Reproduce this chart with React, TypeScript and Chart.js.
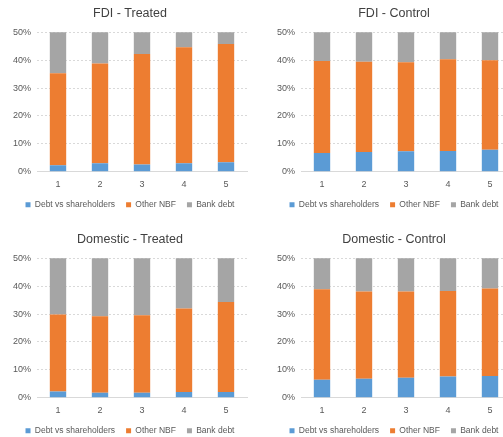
import React, { useEffect, useRef } from "react";
import { Chart, registerables } from "chart.js";

Chart.register(...registerables);

// Time periods on the x axis
const periods = ["1", "2", "3", "4", "5"];
const yTicks = [0, 10, 20, 30, 40, 50];

// Shares of total liabilities (%) per group
const fdiTreatedShareholders = [2.3, 3.0, 2.6, 3.0, 3.4];
const fdiTreatedOtherNbf = [33.0, 35.8, 39.6, 41.6, 42.4];
const fdiTreatedBank = [64.7, 61.2, 57.8, 55.4, 54.2];

const fdiControlShareholders = [6.7, 7.1, 7.3, 7.4, 7.9];
const fdiControlOtherNbf = [33.0, 32.3, 32.0, 32.9, 32.1];
const fdiControlBank = [60.3, 60.6, 60.7, 59.7, 60.0];

const domTreatedShareholders = [2.2, 1.8, 1.8, 2.0, 2.0];
const domTreatedOtherNbf = [27.6, 27.4, 27.8, 30.0, 32.3];
const domTreatedBank = [70.2, 70.8, 70.4, 68.0, 65.7];

const domControlShareholders = [6.4, 6.8, 7.2, 7.6, 7.8];
const domControlOtherNbf = [32.5, 31.3, 30.9, 30.7, 31.4];
const domControlBank = [61.1, 61.9, 61.9, 61.7, 60.8];

const seriesNames = ["Debt vs shareholders", "Other NBF", "Bank debt"];
const seriesColors = ["#5B9BD5", "#ED7D31", "#A5A5A5"];

const FONT = "'Liberation Sans', Arial, sans-serif";
const W = 262;
const H = 219;

type PanelProps = {
  title: string;
  series: number[][];
  left: number;
  top: number;
};

function Panel({ title, series, left, top }: PanelProps) {
  const ref = useRef<HTMLCanvasElement | null>(null);

  useEffect(() => {
    if (!ref.current) return;
    const chart = new Chart(ref.current, {
      type: "bar",
      data: {
        labels: periods,
        datasets: series.map((values, i) => ({
          label: seriesNames[i],
          data: values,
          backgroundColor: seriesColors[i],
          borderWidth: 0,
          barPercentage: 0.39,
          categoryPercentage: 1,
          clip: 0,
        })),
      },
      options: {
        responsive: false,
        animation: false,
        devicePixelRatio: 1,
        layout: { padding: { left: 13, right: W - 247, top: 4.5, bottom: 0 } },
        plugins: {
          title: {
            display: true,
            text: title,
            color: "#404040",
            font: { family: FONT, size: 12.5, weight: "normal", lineHeight: 1.2 },
            padding: { top: 2, bottom: 10.8 },
          },
          legend: {
            position: "bottom",
            labels: {
              boxWidth: 5,
              boxHeight: 5,
              padding: 11,
              color: "#595959",
              font: { family: FONT, size: 8.5 },
            },
          },
          tooltip: { enabled: false },
        },
        scales: {
          x: {
            stacked: true,
            afterFit: (scale: any) => {
              scale.height = 17.8;
            },
            grid: { display: false, drawTicks: false },
            border: { display: true, color: "#D9D9D9", width: 1 },
            ticks: {
              color: "#595959",
              padding: 7,
              font: { family: FONT, size: 9 },
            },
          },
          y: {
            stacked: true,
            min: 0,
            max: 50,
            afterFit: (scale: any) => {
              scale.width = 24;
            },
            afterBuildTicks: (scale: any) => {
              scale.ticks = yTicks.map((v) => ({ value: v }));
            },
            grid: { color: "#D9D9D9", drawTicks: false, lineWidth: 1 },
            border: { display: false, dash: [2, 2] },
            ticks: {
              color: "#595959",
              padding: 6,
              font: { family: FONT, size: 9 },
              callback: (v: any) => `${v}%`,
            },
          },
        },
      },
    } as any);
    return () => chart.destroy();
  }, [title, series]);

  return (
    <div style={{ position: "absolute", left, top, width: W, height: H }}>
      <canvas ref={ref} width={W} height={H} style={{ display: "block" }} />
    </div>
  );
}

export default function App() {
  return (
    <div
      style={{
        position: "fixed",
        left: 0,
        top: 0,
        width: 503,
        height: 437,
        overflow: "hidden",
        background: "#FFFFFF",
      }}
    >
      <Panel
        title="FDI - Treated"
        series={[fdiTreatedShareholders, fdiTreatedOtherNbf, fdiTreatedBank]}
        left={0}
        top={0}
      />
      <Panel
        title="FDI - Control"
        series={[fdiControlShareholders, fdiControlOtherNbf, fdiControlBank]}
        left={264}
        top={0}
      />
      <Panel
        title="Domestic - Treated"
        series={[domTreatedShareholders, domTreatedOtherNbf, domTreatedBank]}
        left={0}
        top={226}
      />
      <Panel
        title="Domestic - Control"
        series={[domControlShareholders, domControlOtherNbf, domControlBank]}
        left={264}
        top={226}
      />
    </div>
  );
}
